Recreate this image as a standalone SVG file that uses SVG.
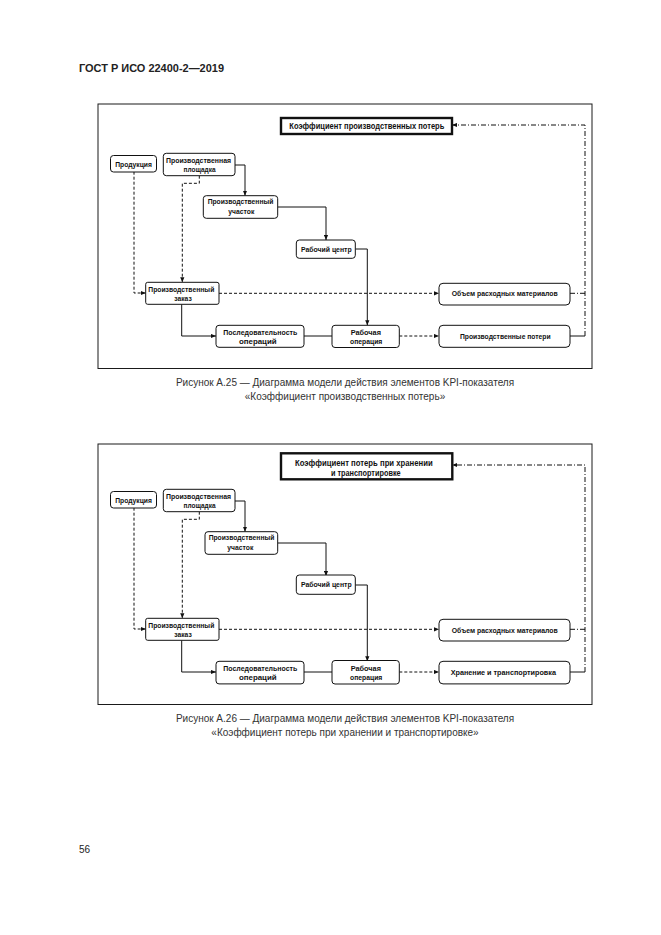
<svg xmlns="http://www.w3.org/2000/svg" width="661" height="935" viewBox="0 0 661 935">
<defs>
<style>
.bg{fill:#fff}
.frame{fill:none;stroke:#1a1a1a;stroke-width:1}
.box{fill:#fff;stroke:#111;stroke-width:1}
.tbox{fill:#fff;stroke:#111;stroke-width:2.4}
.t{font-family:"Liberation Sans",Arial,sans-serif;font-weight:bold;font-size:7.5px;text-anchor:middle;fill:#111}
.tt{font-family:"Liberation Sans",Arial,sans-serif;font-weight:bold;font-size:8.5px;text-anchor:middle;fill:#111}
.ln{fill:none;stroke:#111;stroke-width:1}
.dash{stroke-dasharray:3,2}
.dd{stroke-dasharray:5,2,1,2}
.cap{font-family:"Liberation Sans",Arial,sans-serif;font-size:10px;text-anchor:middle;fill:#333}
.hdr{font-family:"Liberation Sans",Arial,sans-serif;font-weight:bold;font-size:10.5px;fill:#222}
</style>
<marker id="arr" viewBox="0 0 6 6" refX="6" refY="3" markerWidth="5" markerHeight="5" markerUnits="userSpaceOnUse" orient="auto">
<path d="M0,0.5 L6,3 L0,5.5 z" fill="#111"/>
</marker>
</defs>
<rect class="bg" x="0" y="0" width="661" height="935"/>
<text class="hdr" x="79" y="71.5" textLength="145" lengthAdjust="spacingAndGlyphs">ГОСТ Р ИСО 22400-2—2019</text>

<!-- Figure A.25 -->
<g id="fig-a25">
<rect class="frame" x="98" y="104" width="494" height="264.5"/>
<g id="connectors-a25">
<path class="ln dash" d="M134,171.7 V293 H145.7" marker-end="url(#arr)"/>
<path class="ln dash" d="M199.3,175.7 V183.3 H182.3 V282.3" marker-end="url(#arr)"/>
<path class="ln" d="M235,165 H245 V195.7" marker-end="url(#arr)"/>
<path class="ln" d="M277.7,207 H326 V240" marker-end="url(#arr)"/>
<path class="ln" d="M355.3,249 H367.3 V325.3" marker-end="url(#arr)"/>
<path class="ln" d="M181.7,304.3 V336 H216" marker-end="url(#arr)"/>
<path class="ln" d="M304,336 H332"/>
<path class="ln dash" d="M219,293.3 H439" marker-end="url(#arr)"/>
<path class="ln dash" d="M399.3,336 H439" marker-end="url(#arr)"/>
<path class="ln dd" d="M570,293.3 H585"/>
<path class="ln" d="M570,336 H585"/>
<path class="ln dd" d="M585,336 V125 H452" marker-end="url(#arr)"/>
</g>
<g id="a25-title"><rect class="tbox" x="281" y="118" width="171" height="16"/><text class="tt" x="366.8" y="128.8" textLength="155" lengthAdjust="spacingAndGlyphs">Коэффициент производственных потерь</text></g>
<g id="a25-produkciya"><rect class="box" x="110.5" y="155.5" width="46" height="16.5" rx="3"/><text class="t" x="133.6" y="166.8" textLength="36.7" lengthAdjust="spacingAndGlyphs">Продукция</text></g>
<g id="a25-ploshchadka"><rect class="box" x="163.3" y="153.3" width="71.7" height="22.4" rx="3"/><text class="t" x="198.5" y="162.7" textLength="65" lengthAdjust="spacingAndGlyphs">Производственная</text><text class="t" x="199.5" y="172" textLength="32" lengthAdjust="spacingAndGlyphs">площадка</text></g>
<g id="a25-uchastok"><rect class="box" x="203.3" y="195.7" width="74.4" height="22.6" rx="3"/><text class="t" x="240.5" y="204.4" textLength="65.7" lengthAdjust="spacingAndGlyphs">Производственный</text><text class="t" x="241.3" y="213.7" textLength="26" lengthAdjust="spacingAndGlyphs">участок</text></g>
<g id="a25-centr"><rect class="box" x="296.3" y="240" width="59" height="18.3" rx="3"/><text class="t" x="326.3" y="251.7" textLength="50.7" lengthAdjust="spacingAndGlyphs">Рабочий центр</text></g>
<g id="a25-zakaz"><rect class="box" x="145.7" y="282.3" width="73.3" height="22" rx="2"/><text class="t" x="181.3" y="291.7" textLength="66" lengthAdjust="spacingAndGlyphs">Производственный</text><text class="t" x="183" y="301" textLength="17.4" lengthAdjust="spacingAndGlyphs">заказ</text></g>
<g id="a25-posl"><rect class="box" x="216" y="325.3" width="88" height="22" rx="3"/><text class="t" x="260.3" y="335" textLength="74" lengthAdjust="spacingAndGlyphs">Последовательность</text><text class="t" x="257.8" y="344.4" textLength="37.7" lengthAdjust="spacingAndGlyphs">операций</text></g>
<g id="a25-oper"><rect class="box" x="332" y="325.3" width="67.3" height="22.2" rx="3"/><text class="t" x="365.8" y="335" textLength="30.3" lengthAdjust="spacingAndGlyphs">Рабочая</text><text class="t" x="366.2" y="344.4" textLength="32.3" lengthAdjust="spacingAndGlyphs">операция</text></g>
<g id="a25-obem"><rect class="box" x="439" y="283.3" width="131" height="21.7" rx="4"/><text class="t" x="504.7" y="296" textLength="106" lengthAdjust="spacingAndGlyphs">Объем расходных материалов</text></g>
<g id="a25-poteri"><rect class="box" x="439" y="325.3" width="131" height="22" rx="4"/><text class="t" x="505.3" y="338.7" textLength="90.7" lengthAdjust="spacingAndGlyphs">Производственные потери</text></g>
</g>
<text class="cap" x="345" y="386">Рисунок А.25 — Диаграмма модели действия элементов KPI-показателя</text>
<text class="cap" x="345" y="399.5">«Коэффициент производственных потерь»</text>

<!-- Figure A.26 -->
<g id="fig-a26">
<rect class="frame" x="98" y="444" width="494" height="260.5"/>
<g transform="translate(0,336)">
<g id="connectors-a26">
<path class="ln dash" d="M134,171.7 V293 H145.7" marker-end="url(#arr)"/>
<path class="ln dash" d="M199.3,175.7 V183.3 H182.3 V282.3" marker-end="url(#arr)"/>
<path class="ln" d="M235,165 H245 V195.7" marker-end="url(#arr)"/>
<path class="ln" d="M277.7,207 H326 V240" marker-end="url(#arr)"/>
<path class="ln" d="M355.3,249 H367.3 V325.3" marker-end="url(#arr)"/>
<path class="ln" d="M181.7,304.3 V336 H216" marker-end="url(#arr)"/>
<path class="ln" d="M304,336 H332"/>
<path class="ln dash" d="M219,293.3 H439" marker-end="url(#arr)"/>
<path class="ln dash" d="M399.3,336 H439" marker-end="url(#arr)"/>
<path class="ln dd" d="M570,293.3 H585"/>
<path class="ln" d="M570,336 H585"/>
<path class="ln dd" d="M585,336 V129 H452.3" marker-end="url(#arr)"/>
</g>
<g id="a26-title"><rect class="tbox" x="281" y="117.3" width="171.3" height="26"/><text class="tt" x="363.8" y="130.3" textLength="137.7" lengthAdjust="spacingAndGlyphs">Коэффициент потерь при хранении</text><text class="tt" x="365.8" y="140.3" textLength="69.7" lengthAdjust="spacingAndGlyphs">и транспортировке</text></g>
<g id="a26-produkciya"><rect class="box" x="110.5" y="155.5" width="46" height="16.5" rx="3"/><text class="t" x="133.6" y="166.8" textLength="36.7" lengthAdjust="spacingAndGlyphs">Продукция</text></g>
<g id="a26-ploshchadka"><rect class="box" x="163.3" y="153.3" width="71.7" height="22.4" rx="3"/><text class="t" x="198.5" y="162.7" textLength="65" lengthAdjust="spacingAndGlyphs">Производственная</text><text class="t" x="199.5" y="172" textLength="32" lengthAdjust="spacingAndGlyphs">площадка</text></g>
<g id="a26-uchastok"><rect class="box" x="205" y="195.7" width="72.7" height="22.6" rx="3"/><text class="t" x="241.5" y="204.4" textLength="65.7" lengthAdjust="spacingAndGlyphs">Производственный</text><text class="t" x="240.3" y="213.7" textLength="26" lengthAdjust="spacingAndGlyphs">участок</text></g>
<g id="a26-centr"><rect class="box" x="296.3" y="239" width="59" height="19.3" rx="3"/><text class="t" x="326.3" y="251.2" textLength="50.7" lengthAdjust="spacingAndGlyphs">Рабочий центр</text></g>
<g id="a26-zakaz"><rect class="box" x="145.7" y="282.3" width="73.3" height="22" rx="2"/><text class="t" x="181.3" y="291.7" textLength="66" lengthAdjust="spacingAndGlyphs">Производственный</text><text class="t" x="183" y="301" textLength="17.4" lengthAdjust="spacingAndGlyphs">заказ</text></g>
<g id="a26-posl"><rect class="box" x="216" y="325.3" width="88" height="22.6" rx="3"/><text class="t" x="260.3" y="335" textLength="74" lengthAdjust="spacingAndGlyphs">Последовательность</text><text class="t" x="257.8" y="344.4" textLength="37.7" lengthAdjust="spacingAndGlyphs">операций</text></g>
<g id="a26-oper"><rect class="box" x="332" y="324.5" width="67.3" height="23.5" rx="3"/><text class="t" x="365.8" y="335" textLength="30.3" lengthAdjust="spacingAndGlyphs">Рабочая</text><text class="t" x="366.2" y="344.4" textLength="32.3" lengthAdjust="spacingAndGlyphs">операция</text></g>
<g id="a26-obem"><rect class="box" x="439" y="283.3" width="131" height="21.7" rx="4"/><text class="t" x="504.7" y="296.7" textLength="106" lengthAdjust="spacingAndGlyphs">Объем расходных материалов</text></g>
<g id="a26-hranenie"><rect class="box" x="439" y="325.3" width="131" height="22.6" rx="4"/><text class="t" x="503.3" y="338.9" textLength="105.3" lengthAdjust="spacingAndGlyphs">Хранение и транспортировка</text></g>
</g>
</g>
<text class="cap" x="345" y="722">Рисунок А.26 — Диаграмма модели действия элементов KPI-показателя</text>
<text class="cap" x="345" y="735.5">«Коэффициент потерь при хранении и транспортировке»</text>

<text class="hdr" x="79" y="852.5" style="font-weight:normal;font-size:10px">56</text>
</svg>
